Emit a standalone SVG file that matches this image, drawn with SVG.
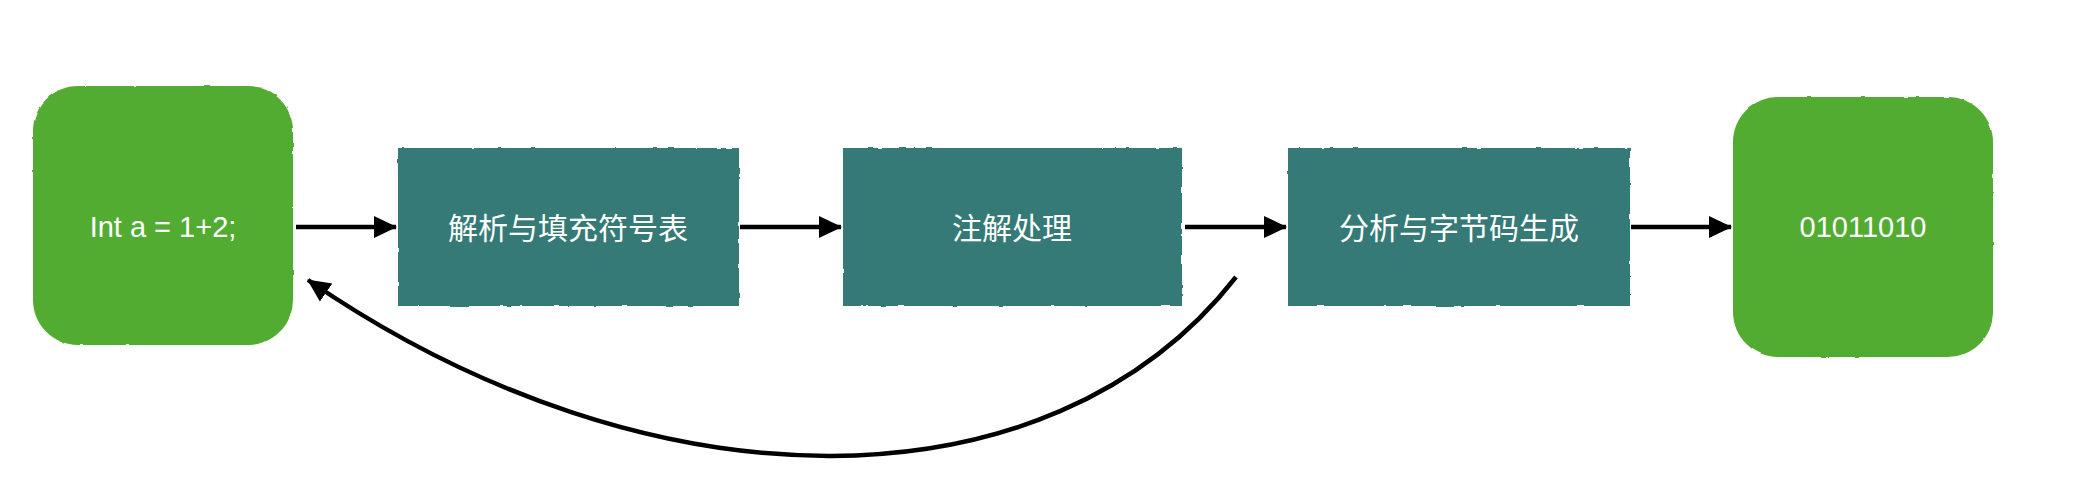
<svg xmlns="http://www.w3.org/2000/svg" width="2074" height="492" viewBox="0 0 2074 492">
<style>
.green{fill:#53AC33;}
.teal{fill:#367A76;}
.lbl{fill:#ffffff;font-family:"Liberation Sans","Noto Sans CJK SC",sans-serif;font-size:29px;text-anchor:middle;dominant-baseline:central;}
.cjk{font-size:30px;}
.conn{fill:none;stroke:#000;stroke-width:4.5;}
</style>
<defs>
<marker id="ah" markerUnits="userSpaceOnUse" markerWidth="24" markerHeight="24" viewBox="0 0 24 24" refX="22" refY="12" orient="auto">
<path d="M0,1 L23,12 L0,23 Z" fill="#000"/>
</marker>
<filter id="rough" x="-5%" y="-5%" width="110%" height="110%">
<feTurbulence type="fractalNoise" baseFrequency="0.09" numOctaves="2" seed="3" result="n"/>
<feDisplacementMap in="SourceGraphic" in2="n" scale="2.5" xChannelSelector="R" yChannelSelector="G"/>
</filter>
</defs>
<g id="connectors">
<line class="conn" x1="296" y1="227" x2="396" y2="227" marker-end="url(#ah)"/>
<line class="conn" x1="740" y1="227" x2="841" y2="227" marker-end="url(#ah)"/>
<line class="conn" x1="1185" y1="227" x2="1286" y2="227" marker-end="url(#ah)"/>
<line class="conn" x1="1631" y1="227" x2="1731" y2="227" marker-end="url(#ah)"/>
<path class="conn" d="M1236,277 C1050,515 650,515 308,280" marker-end="url(#ah)"/>
</g>
<g id="node-source">
<rect class="green" x="33" y="86" width="260" height="259" rx="45" filter="url(#rough)"/>
<text class="lbl" x="163" y="227">Int a = 1+2;</text>
</g>
<g id="node-parse">
<rect class="teal" x="398" y="148" width="341" height="158" filter="url(#rough)"/>
<text class="lbl cjk" x="568" y="228">解析与填充符号表</text>
</g>
<g id="node-annotate">
<rect class="teal" x="843" y="148" width="339" height="158" filter="url(#rough)"/>
<text class="lbl cjk" x="1012" y="228">注解处理</text>
</g>
<g id="node-generate">
<rect class="teal" x="1288" y="148" width="342" height="158" filter="url(#rough)"/>
<text class="lbl cjk" x="1459" y="228">分析与字节码生成</text>
</g>
<g id="node-bytecode">
<rect class="green" x="1733" y="97" width="260" height="260" rx="45" filter="url(#rough)"/>
<text class="lbl" x="1863" y="227">01011010</text>
</g>
</svg>
